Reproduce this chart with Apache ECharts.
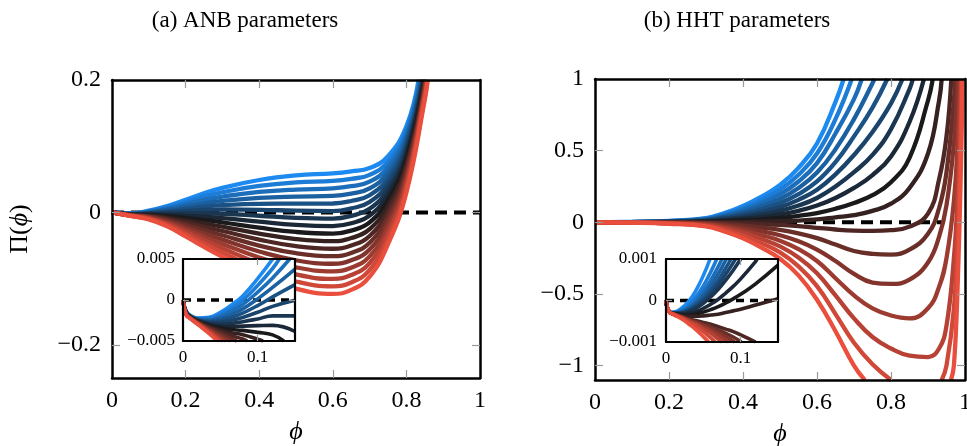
<!DOCTYPE html>
<html>
<head>
<meta charset="utf-8">
<script src="https://cdn.jsdelivr.net/npm/echarts@6/dist/echarts.min.js"></script>
<style>
  html, body { margin: 0; padding: 0; background: #fff; }
  #chart { width: 967px; height: 446px; }
</style>
</head>
<body>
<div id="chart"></div>
<script>
// (a) ANB parameters, main panel: one row per curve, blue (top) to red (bottom).
// Rows stop at the last point inside the frame; anbTopExit is where each curve leaves through Π = 0.2.
const phiA = [0, 0.05, 0.1, 0.15, 0.2, 0.25, 0.3, 0.4, 0.5, 0.6, 0.65, 0.7, 0.75, 0.8, 0.85];
const anbCurves = [
  [0, -0.0015, 0.0026, 0.0095, 0.019, 0.029, 0.037, 0.049, 0.056, 0.059, 0.062, 0.067, 0.085, 0.13],
  [0, -0.0017, 0.0018, 0.0076, 0.0156, 0.0239, 0.0305, 0.04, 0.0453, 0.0476, 0.0508, 0.0568, 0.0767, 0.1238],
  [0, -0.002, 0.001, 0.0057, 0.0121, 0.0189, 0.024, 0.031, 0.0346, 0.0363, 0.0396, 0.0465, 0.0684, 0.1175],
  [0, -0.0022, 0.0001, 0.0038, 0.0087, 0.0138, 0.0175, 0.022, 0.0239, 0.0249, 0.0284, 0.0363, 0.0601, 0.1113],
  [0, -0.0025, -0.0007, 0.0019, 0.0053, 0.0088, 0.011, 0.013, 0.0133, 0.0135, 0.0173, 0.026, 0.0518, 0.105],
  [0, -0.0027, -0.0015, 0, 0.0018, 0.0037, 0.0045, 0.004, 0.0026, 0.0021, 0.0061, 0.0158, 0.0434, 0.0988],
  [0, -0.0029, -0.0023, -0.0019, -0.0016, -0.0014, -0.002, -0.005, -0.0081, -0.0093, -0.0051, 0.0055, 0.0351, 0.0925],
  [0, -0.0032, -0.0031, -0.0038, -0.0051, -0.0064, -0.0085, -0.014, -0.0188, -0.0206, -0.0163, -0.0048, 0.0268, 0.0863],
  [0, -0.0034, -0.004, -0.0058, -0.0085, -0.0115, -0.015, -0.023, -0.0295, -0.032, -0.0275, -0.015, 0.0185, 0.08],
  [0, -0.0036, -0.0048, -0.0077, -0.0119, -0.0166, -0.0215, -0.032, -0.0402, -0.0434, -0.0387, -0.0253, 0.0102, 0.0738],
  [0, -0.0039, -0.0056, -0.0096, -0.0154, -0.0216, -0.028, -0.041, -0.0509, -0.0548, -0.0499, -0.0355, 0.0019, 0.0675],
  [0, -0.0041, -0.0064, -0.0115, -0.0188, -0.0267, -0.0345, -0.05, -0.0616, -0.0661, -0.0611, -0.0458, -0.0064, 0.0613],
  [0, -0.0044, -0.0072, -0.0134, -0.0223, -0.0318, -0.041, -0.059, -0.0723, -0.0775, -0.0723, -0.056, -0.0148, 0.055],
  [0, -0.0046, -0.008, -0.0153, -0.0257, -0.0368, -0.0475, -0.068, -0.0829, -0.0889, -0.0834, -0.0663, -0.0231, 0.0488, 0.1822],
  [0, -0.0048, -0.0089, -0.0172, -0.0291, -0.0419, -0.054, -0.077, -0.0936, -0.1003, -0.0946, -0.0765, -0.0314, 0.0425, 0.1781],
  [0, -0.0051, -0.0097, -0.0191, -0.0326, -0.0469, -0.0605, -0.086, -0.1043, -0.1116, -0.1058, -0.0868, -0.0397, 0.0363, 0.1741],
  [0, -0.0053, -0.0105, -0.021, -0.036, -0.052, -0.067, -0.095, -0.115, -0.123, -0.117, -0.097, -0.048, 0.03, 0.17]
];
const anbTopExit = [0.833, 0.836, 0.838, 0.84, 0.842, 0.844, 0.846, 0.847, 0.849, 0.85, 0.851, 0.853, 0.854, 0.855, 0.856, 0.857, 0.858];

// (a) inset, near phi = 0 (anbInsetExit: where a curve leaves the inset frame, null if it stays in)
const phiAInset = [0, 0.004, 0.01, 0.02, 0.035, 0.05, 0.065, 0.08, 0.1, 0.12, 0.15];
const anbInset = [
  [0, -13e-4, -19e-4, -22e-4, -21e-4, -15e-4, -6e-4, 5e-4, 26e-4],
  [0, -13.3e-4, -19.3e-4, -22.5e-4, -22.3e-4, -17.4e-4, -9.8e-4, -0.3e-4, 17.8e-4, 38.4e-4],
  [0, -13.6e-4, -19.5e-4, -23e-4, -23.5e-4, -19.8e-4, -13.5e-4, -5.5e-4, 9.6e-4, 26.9e-4],
  [0, -13.9e-4, -19.8e-4, -23.5e-4, -24.8e-4, -22.1e-4, -17.3e-4, -10.8e-4, 1.4e-4, 15.3e-4, 37.8e-4],
  [0, -14.3e-4, -20e-4, -24e-4, -26e-4, -24.5e-4, -21e-4, -16e-4, -6.8e-4, 3.8e-4, 18.8e-4],
  [0, -14.6e-4, -20.3e-4, -24.5e-4, -27.3e-4, -26.9e-4, -24.8e-4, -21.3e-4, -14.9e-4, -7.8e-4, -0.3e-4],
  [0, -14.9e-4, -20.5e-4, -25e-4, -28.5e-4, -29.3e-4, -28.5e-4, -26.5e-4, -23.1e-4, -19.4e-4, -19.4e-4],
  [0, -15.2e-4, -20.8e-4, -25.5e-4, -29.8e-4, -31.6e-4, -32.3e-4, -31.8e-4, -31.3e-4, -30.9e-4, -38.4e-4],
  [0, -15.5e-4, -21e-4, -26e-4, -31e-4, -34e-4, -36e-4, -37e-4, -39.5e-4, -42.5e-4],
  [0, -15.8e-4, -21.3e-4, -26.5e-4, -32.3e-4, -36.4e-4, -39.8e-4, -42.3e-4, -47.7e-4],
  [0, -16.1e-4, -21.5e-4, -27e-4, -33.5e-4, -38.8e-4, -43.5e-4, -47.5e-4],
  [0, -16.4e-4, -21.8e-4, -27.5e-4, -34.8e-4, -41.1e-4, -47.3e-4],
  [0, -16.8e-4, -22e-4, -28e-4, -36e-4, -43.5e-4],
  [0, -17.1e-4, -22.3e-4, -28.5e-4, -37.3e-4, -45.9e-4],
  [0, -17.4e-4, -22.5e-4, -29e-4, -38.5e-4, -48.3e-4],
  [0, -17.7e-4, -22.8e-4, -29.5e-4, -39.8e-4],
  [0, -18e-4, -23e-4, -30e-4, -41e-4]
];
const anbInsetExit = [0.12, 0.129, 0.143, null, null, null, null, null, 0.135, 0.107, 0.086, 0.072, 0.063, 0.057, 0.053, 0.049, 0.046];

// (b) HHT parameters, main panel. null = below the frame; hhtBottomGap = [leaves, comes back] through Π = -1.1
const phiB = [0, 0.1, 0.2, 0.3, 0.35, 0.4, 0.45, 0.5, 0.55, 0.6, 0.65, 0.7, 0.75, 0.8, 0.85, 0.9, 0.93, 0.95, 0.97, 0.98, 0.99];
const hhtCurves = [
  [0, 0.0037, 0.01, 0.03, 0.065, 0.115, 0.18, 0.26, 0.38, 0.55, 0.84],
  [0, 0.0027, 0.0087, 0.026, 0.057, 0.10, 0.157, 0.227, 0.332, 0.48, 0.72],
  [0, 0.0021, 0.0075, 0.0225, 0.049, 0.086, 0.135, 0.195, 0.285, 0.413, 0.62, 0.86],
  [0, 0.0018, 0.0063, 0.019, 0.041, 0.073, 0.114, 0.164, 0.24, 0.347, 0.51, 0.72, 0.97],
  [0, 0.0015, 0.0052, 0.016, 0.034, 0.06, 0.093, 0.135, 0.197, 0.285, 0.42, 0.6, 0.8],
  [0, 0.0012, 0.0041, 0.012, 0.027, 0.047, 0.074, 0.107, 0.157, 0.227, 0.335, 0.47, 0.63, 0.83],
  [0, 0.001, 0.0031, 0.009, 0.02, 0.035, 0.055, 0.08, 0.117, 0.17, 0.25, 0.35, 0.47, 0.65, 0.93],
  [0, 0.0005, 0.0021, 0.006, 0.014, 0.024, 0.038, 0.055, 0.08, 0.117, 0.17, 0.24, 0.33, 0.46, 0.7],
  [0, 0.0001, 0.0012, 0.0036, 0.008, 0.014, 0.021, 0.031, 0.045, 0.065, 0.095, 0.135, 0.19, 0.28, 0.45, 0.85],
  [0, -0.0002, 0.0003, 0.001, 0.002, 0.0036, 0.0056, 0.008, 0.012, 0.02, 0.035, 0.05, 0.08, 0.13, 0.24, 0.48, 0.85],
  [0, -0.0008, -0.0007, -0.002, -0.0045, -0.008, -0.012, -0.018, -0.026, -0.038, -0.05, -0.058, -0.06, -0.055, -0.03, 0.06, 0.3, 0.6],
  [0, -0.001, -0.002, -0.0055, -0.012, -0.023, -0.036, -0.052, -0.077, -0.11, -0.155, -0.2, -0.22, -0.225, -0.19, -0.08, 0.1, 0.35, 0.85],
  [0, -0.0011, -0.0035, -0.01, -0.022, -0.04, -0.062, -0.09, -0.132, -0.19, -0.27, -0.36, -0.42, -0.43, -0.4, -0.28, -0.1, 0.12, 0.55, 0.95],
  [0, -0.0013, -0.0049, -0.015, -0.032, -0.057, -0.089, -0.128, -0.187, -0.27, -0.39, -0.51, -0.6, -0.65, -0.67, -0.6, -0.45, -0.25, 0.15, 0.55],
  [0, -0.0014, -0.0065, -0.019, -0.042, -0.074, -0.116, -0.168, -0.245, -0.355, -0.51, -0.67, -0.8, -0.88, -0.93, -0.94, -0.88, -0.72, -0.25, 0.2],
  [0, -0.0017, -0.0081, -0.024, -0.053, -0.093, -0.145, -0.21, -0.307, -0.445, -0.64, -0.84, -0.99, null, null, null, null, -1.0, -0.6, -0.1, 0.8],
  [0, -0.0022, -0.0098, -0.029, -0.064, -0.112, -0.176, -0.254, -0.37, -0.54, -0.76, -1.0, null, null, null, null, null, null, -1.0, -0.45, 0.5]
];
const hhtTopExit = [0.672, 0.694, 0.721, 0.755, 0.79, 0.831, 0.859, 0.889, 0.913, 0.937, 0.963, 0.973, 0.981, 0.986, 0.99, 0.991, 0.993];
const hhtBottomGap = { 15: [0.8, 0.937], 16: [0.729, 0.962] };

// (b) inset, near phi = 0
const phiBInset = [0, 0.004, 0.01, 0.02, 0.03, 0.04, 0.05, 0.06, 0.07, 0.08, 0.09, 0.1, 0.12, 0.15];
const hhtInset = [
  [0, -26e-5, -28e-5, -20e-5, -3e-5, 24e-5, 60e-5],
  [0, -27e-5, -29e-5, -24e-5, -12e-5, 8e-5, 35e-5, 69e-5],
  [0, -27e-5, -30e-5, -26e-5, -17e-5, -1e-5, 21e-5, 49e-5, 82e-5],
  [0, -27e-5, -30e-5, -28e-5, -20e-5, -7e-5, 12e-5, 36e-5, 64e-5, 97e-5],
  [0, -27e-5, -30e-5, -29e-5, -23e-5, -11e-5, 5e-5, 25e-5, 49e-5, 78e-5],
  [0, -27e-5, -30e-5, -30e-5, -25e-5, -15e-5, -1e-5, 17e-5, 38e-5, 63e-5, 91e-5],
  [0, -27e-5, -31e-5, -31e-5, -27e-5, -19e-5, -7e-5, 9e-5, 27e-5, 49e-5, 73e-5],
  [0, -27e-5, -31e-5, -33e-5, -31e-5, -27e-5, -19e-5, -9e-5, 3e-5, 18e-5, 34e-5, 52e-5, 94e-5],
  [0, -27e-5, -32e-5, -34e-5, -35e-5, -33e-5, -28e-5, -22e-5, -15e-5, -6e-5, 4e-5, 15e-5, 40e-5, 85e-5],
  [0, -27e-5, -32e-5, -36e-5, -38e-5, -38e-5, -37e-5, -35e-5, -33e-5, -29e-5, -25e-5, -21e-5, -11e-5, 4e-5],
  [0, -27e-5, -33e-5, -38e-5, -44e-5, -48e-5, -53e-5, -57e-5, -63e-5, -69e-5, -75e-5, -83e-5],
  [0, -27e-5, -33e-5, -39e-5, -45e-5, -51e-5, -57e-5, -63e-5, -71e-5, -79e-5, -88e-5],
  [0, -27e-5, -33e-5, -39e-5, -46e-5, -53e-5, -60e-5, -68e-5, -77e-5, -87e-5],
  [0, -27e-5, -33e-5, -40e-5, -48e-5, -55e-5, -64e-5, -73e-5, -84e-5, -96e-5],
  [0, -27e-5, -33e-5, -40e-5, -49e-5, -58e-5, -68e-5, -79e-5, -93e-5],
  [0, -27e-5, -33e-5, -42e-5, -52e-5, -62e-5, -75e-5, -90e-5],
  [0, -27e-5, -34e-5, -43e-5, -56e-5, -70e-5, -87e-5]
];
const hhtInsetExit = [0.059, 0.068, 0.075, 0.081, 0.087, 0.093, 0.1, 0.122, null, null, 0.12, 0.101, 0.092, 0.083, 0.075, 0.066, 0.057];

// dashed zero lines (x extent)
const zeroA = [0, 1];
const zeroB = [0, 0.94];
const zeroInset = [0, 0.15];

// ticks and tick labels
const xTicksMain = [0.2, 0.4, 0.6, 0.8];
const xLabelsMain = [0, 0.2, 0.4, 0.6, 0.8, 1];
const yTicksA = [-0.2, 0];
const yLabelsA = [-0.2, 0, 0.2];
const yTicksB = [-1, -0.5, 0, 0.5];
const yLabelsB = [-1, -0.5, 0, 0.5, 1];
const xTicksInset = [0.1];
const xLabelsInset = [0, 0.1];
const yTicksInset = [0];
const yLabelsInsetA = [-0.005, 0, 0.005];
const yLabelsInsetB = [-0.001, 0, 0.001];

const serif = "'Liberation Serif', 'Times New Roman', 'DejaVu Serif', serif";
const blueEnd = [28, 138, 240], blackMid = [26, 26, 28], redEnd = [234, 78, 60];

function curveColor(k, n) {
  const t = k / (n - 1);
  let a, b, u;
  if (t < 0.5) { a = blueEnd; b = blackMid; u = t / 0.5; }
  else { a = blackMid; b = redEnd; u = (t - 0.5) / 0.5; }
  return 'rgb(' + a.map((v, i) => Math.round(v + (b[i] - v) * u)).join(',') + ')';
}

const minus = v => String(v).replace('-', '\u2212');

// 2 x axes (bottom, top) and 2 y axes (left, right) per grid: full frame with inner ticks
function frameAxes(g, o) {
  const tick = vals => ({ show: true, inside: true, length: o.tickLen, customValues: vals,
    lineStyle: { color: '#9a9a9a', width: 1.2 } });
  const line = { show: true, onZero: false, lineStyle: { color: '#000', width: o.lineW } };
  const label = (vals, margin) => ({ show: true, customValues: vals, fontFamily: serif,
    fontSize: o.fontSize, color: '#000', margin: margin, formatter: minus });
  const base = { gridIndex: g, type: 'value', splitLine: { show: false }, z: o.z, axisLine: line };
  const xa = [
    Object.assign({}, base, { position: 'bottom', min: o.x[0], max: o.x[1],
      axisTick: tick(o.xTicks), axisLabel: label(o.xLabels, o.xMargin) }, o.xName || {}),
    Object.assign({}, base, { position: 'top', min: o.x[0], max: o.x[1],
      axisTick: tick(o.xTicks), axisLabel: { show: false } })
  ];
  const ya = [
    Object.assign({}, base, { position: 'left', min: o.y[0], max: o.y[1],
      axisTick: tick(o.yTicks), axisLabel: label(o.yLabels, o.yMargin) }, o.yName || {}),
    Object.assign({}, base, { position: 'right', min: o.y[0], max: o.y[1],
      axisTick: tick(o.yTicks), axisLabel: { show: false } })
  ];
  return { xa, ya };
}

const phiName = { name: '\u03D5', nameLocation: 'middle', nameGap: 41,
  nameTextStyle: { fontFamily: serif, fontSize: 26, fontStyle: 'italic', color: '#000' } };
const piName = { name: '{n|\u03A0(}{i|\u03D5}{n|)}', nameLocation: 'middle', nameGap: 79, nameRotate: 90,
  nameTextStyle: { fontFamily: serif, fontSize: 26, color: '#000',
    rich: { n: { fontFamily: serif, fontSize: 26, color: '#000' },
            i: { fontFamily: serif, fontSize: 26, fontStyle: 'italic', color: '#000' } } } };

const axesA = frameAxes(0, { x: [0, 1], y: [-0.25, 0.2], xTicks: xTicksMain, xLabels: xLabelsMain,
  yTicks: yTicksA, yLabels: yLabelsA, fontSize: 24, tickLen: 8, lineW: 2.5, xMargin: 11, yMargin: 11,
  z: 5, xName: phiName, yName: piName });
const axesB = frameAxes(1, { x: [0, 1], y: [-1.1, 1], xTicks: xTicksMain, xLabels: xLabelsMain,
  yTicks: yTicksB, yLabels: yLabelsB, fontSize: 24, tickLen: 8, lineW: 2.5, xMargin: 11, yMargin: 11,
  z: 5, xName: phiName });
const axesAI = frameAxes(2, { x: [0, 0.15], y: [-0.005, 0.005], xTicks: xTicksInset, xLabels: xLabelsInset,
  yTicks: yTicksInset, yLabels: yLabelsInsetA, fontSize: 17, tickLen: 6, lineW: 2.2, xMargin: 8, yMargin: 8,
  z: 15 });
const axesBI = frameAxes(3, { x: [0, 0.15], y: [-0.001, 0.001], xTicks: xTicksInset, xLabels: xLabelsInset,
  yTicks: yTicksInset, yLabels: yLabelsInsetB, fontSize: 17, tickLen: 6, lineW: 2.2, xMargin: 8, yMargin: 9,
  z: 15 });

// points of one curve: row values, plus the frame crossings so nothing is drawn along the frame edge
function curvePoints(xs, ys, exitX, yRange, gap) {
  const pts = [];
  let out = false;
  ys.forEach((y, i) => {
    if (y === null) {
      if (!out) { pts.push([gap[0], yRange[0]], [gap[0], '-']); out = true; }
    } else {
      if (out) { pts.push([gap[1], yRange[0]]); out = false; }
      pts.push([xs[i], y]);
    }
  });
  if (exitX !== null && exitX !== undefined) {
    pts.push([exitX, ys[ys.length - 1] > 0 ? yRange[1] : yRange[0]]);
  }
  return pts;
}

const series = [];
function addFamily(xs, rows, exits, gaps, yRange, axisIdx, width, z) {
  rows.forEach((ys, k) => {
    series.push({
      type: 'line', xAxisIndex: axisIdx * 2, yAxisIndex: axisIdx * 2,
      data: curvePoints(xs, ys, exits[k], yRange, gaps[k]),
      symbol: 'none', smooth: 0.45, silent: true, z: z, connectNulls: false,
      lineStyle: { width: width, color: curveColor(k, rows.length) }
    });
  });
}
function addZero(range, axisIdx, width, dash, z) {
  series.push({
    type: 'line', xAxisIndex: axisIdx * 2, yAxisIndex: axisIdx * 2,
    data: range.map(x => [x, 0]), symbol: 'none', silent: true, z: z,
    lineStyle: { color: '#000', width: width, type: dash }
  });
}

addZero(zeroA, 0, 4, [12, 7], 1);
addFamily(phiA, anbCurves, anbTopExit, {}, [-0.25, 0.2], 0, 4.3, 2);
addZero(zeroB, 1, 4, [12, 7], 1);
addFamily(phiB, hhtCurves, hhtTopExit, hhtBottomGap, [-1.1, 1], 1, 4.3, 2);
addZero(zeroInset, 2, 3.5, [8, 6], 11);
addFamily(phiAInset, anbInset, anbInsetExit, {}, [-0.005, 0.005], 2, 3.6, 12);
addZero(zeroInset, 3, 3.5, [8, 6], 11);
addFamily(phiBInset, hhtInset, hhtInsetExit, {}, [-0.001, 0.001], 3, 3.6, 12);

const chart = echarts.init(document.getElementById('chart'));
chart.setOption({
  animation: false,
  backgroundColor: '#fff',
  title: [
    { text: '(a) ANB parameters', left: 245, top: 9, textAlign: 'center', padding: 0,
      textStyle: { fontFamily: serif, fontSize: 23, fontWeight: 'normal', color: '#000' } },
    { text: '(b) HHT parameters', left: 737, top: 9, textAlign: 'center', padding: 0,
      textStyle: { fontFamily: serif, fontSize: 23, fontWeight: 'normal', color: '#000' } }
  ],
  grid: [
    { left: 112, top: 80, width: 368, height: 298, outerBoundsMode: 'none', containLabel: false },
    { left: 595, top: 79, width: 370, height: 301, outerBoundsMode: 'none', containLabel: false },
    { left: 183, top: 259, width: 112, height: 82, outerBoundsMode: 'none', containLabel: false,
      show: true, backgroundColor: '#fff', borderWidth: 0, z: 10 },
    { left: 666, top: 259, width: 112, height: 83, outerBoundsMode: 'none', containLabel: false,
      show: true, backgroundColor: '#fff', borderWidth: 0, z: 10 }
  ],
  xAxis: [].concat(axesA.xa, axesB.xa, axesAI.xa, axesBI.xa),
  yAxis: [].concat(axesA.ya, axesB.ya, axesAI.ya, axesBI.ya),
  series: series
});
</script>
</body>
</html>
